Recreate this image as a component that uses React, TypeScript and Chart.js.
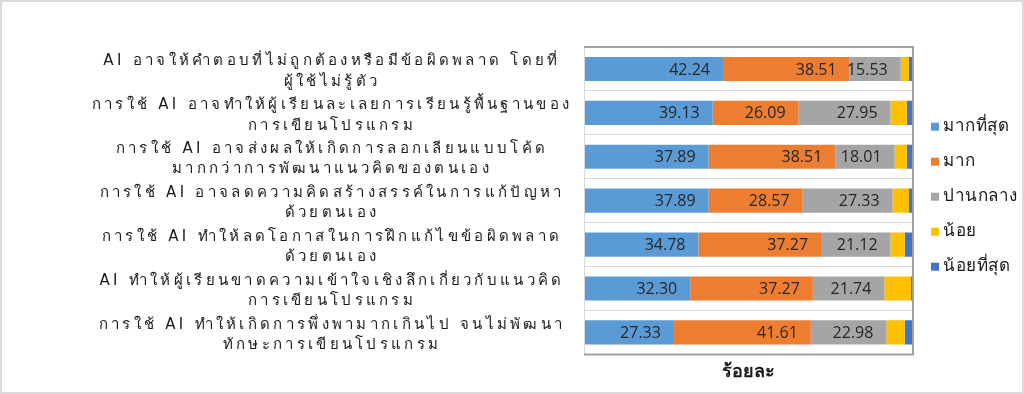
import React, { useEffect, useRef } from "react";
import { Chart, registerables } from "chart.js";

Chart.register(...registerables);

const categories: string[][] = [
  ["AI อาจให้คำตอบที่ไม่ถูกต้องหรือมีข้อผิดพลาด โดยที่", "ผู้ใช้ไม่รู้ตัว"],
  ["การใช้ AI อาจทำให้ผู้เรียนละเลยการเรียนรู้พื้นฐานของ", "การเขียนโปรแกรม"],
  ["การใช้ AI อาจส่งผลให้เกิดการลอกเลียนแบบโค้ด", "มากกว่าการพัฒนาแนวคิดของตนเอง"],
  ["การใช้ AI อาจลดความคิดสร้างสรรค์ในการแก้ปัญหา", "ด้วยตนเอง"],
  ["การใช้ AI ทำให้ลดโอกาสในการฝึกแก้ไขข้อผิดพลาด", "ด้วยตนเอง"],
  ["AI ทำให้ผู้เรียนขาดความเข้าใจเชิงลึกเกี่ยวกับแนวคิด", "การเขียนโปรแกรม"],
  ["การใช้ AI ทำให้เกิดการพึ่งพามากเกินไป จนไม่พัฒนา", "ทักษะการเขียนโปรแกรม"],
];

const seriesNames = ["มากที่สุด", "มาก", "ปานกลาง", "น้อย", "น้อยที่สุด"];
const mostValues = [42.24, 39.13, 37.89, 37.89, 34.78, 32.3, 27.33];
const muchValues = [38.51, 26.09, 38.51, 28.57, 37.27, 37.27, 41.61];
const moderateValues = [15.53, 27.95, 18.01, 27.33, 21.12, 21.74, 22.98];
const littleValues = [2.48, 4.97, 3.73, 4.97, 4.35, 8.07, 5.59];
const leastValues = [1.24, 1.86, 1.86, 1.24, 2.48, 0.62, 2.48];
const seriesColors = ["#5B9BD5", "#ED7D31", "#A5A5A5", "#FFC000", "#4472C4"];
const labeledSeries = [0, 1, 2];
const axisTitle = "ร้อยละ";

const THAI_FONT = "'DejaVu Sans', 'Noto Sans', sans-serif";

const outerBorder = {
  id: "outerBorder",
  beforeDraw(chart: any) {
    const { ctx, width, height } = chart;
    ctx.save();
    ctx.fillStyle = "#ffffff";
    ctx.fillRect(0, 0, width, height);
    ctx.strokeStyle = "#d9d9d9";
    ctx.lineWidth = 2;
    ctx.strokeRect(1, 1, width - 2, height - 2);
    ctx.restore();
  },
};

const plotBorder = {
  id: "plotBorder",
  afterDatasetsDraw(chart: any) {
    const { ctx, chartArea } = chart;
    const { left, right, top, bottom } = chartArea;
    ctx.save();
    ctx.strokeStyle = "#d9d9d9";
    ctx.lineWidth = 1;
    ctx.beginPath();
    ctx.moveTo(left + 0.5, top);
    ctx.lineTo(left + 0.5, bottom);
    ctx.stroke();
    ctx.strokeStyle = "#a0a0a0";
    ctx.lineWidth = 2;
    ctx.beginPath();
    ctx.moveTo(left, top);
    ctx.lineTo(right, top);
    ctx.lineTo(right, bottom);
    ctx.lineTo(left, bottom);
    ctx.stroke();
    ctx.restore();
  },
};

const barLabels = {
  id: "barLabels",
  afterDatasetsDraw(chart: any) {
    const { ctx } = chart;
    ctx.save();
    ctx.font = "16px 'Open Sans', sans-serif";
    ctx.fillStyle = "#262626";
    ctx.textAlign = "right";
    ctx.textBaseline = "middle";
    labeledSeries.forEach((di) => {
      const meta = chart.getDatasetMeta(di);
      const data = chart.data.datasets[di].data as number[];
      meta.data.forEach((bar: any, i: number) => {
        ctx.fillText(data[i].toFixed(2), bar.x - 13, bar.y + 1);
      });
    });
    ctx.restore();
  },
};

// Category labels of the y scale, each line centred (Excel-style wrapped text)
const categoryLabels = {
  id: "categoryLabels",
  afterDraw(chart: any) {
    const { ctx, chartArea } = chart;
    const yScale = chart.scales.y;
    const cx = chartArea.left - 252;
    const lineGap = 20.5;
    ctx.save();
    ctx.font = `15px ${THAI_FONT}`;
    (ctx as any).letterSpacing = "3.3px";
    ctx.fillStyle = "#1a1a1a";
    ctx.textAlign = "center";
    ctx.textBaseline = "middle";
    categories.forEach((lines, i) => {
      const yc = yScale.getPixelForValue(i) + 2.5;
      const start = yc - ((lines.length - 1) * lineGap) / 2;
      lines.forEach((ln, k) => {
        ctx.fillText(ln, cx, start + k * lineGap);
      });
    });
    ctx.restore();
  },
};

// Legend at the right of the plot area
const sideLegend = {
  id: "sideLegend",
  afterDraw(chart: any) {
    const { ctx, chartArea } = chart;
    const boxX = chartArea.right + 18;
    const step = 35;
    const n = chart.data.datasets.length;
    const midY = (chartArea.top + chartArea.bottom) / 2 - 4;
    const firstY = midY - ((n - 1) * step) / 2;
    ctx.save();
    ctx.font = `17px ${THAI_FONT}`;
    (ctx as any).letterSpacing = "0.5px";
    ctx.textAlign = "left";
    ctx.textBaseline = "middle";
    chart.data.datasets.forEach((ds: any, i: number) => {
      const y = firstY + i * step;
      ctx.fillStyle = ds.backgroundColor;
      ctx.fillRect(boxX, y - 4, 8, 8);
      ctx.fillStyle = "#1a1a1a";
      ctx.fillText(ds.label, boxX + 12, y);
    });
    ctx.restore();
  },
};

export default function App() {
  const ref = useRef<HTMLCanvasElement | null>(null);

  useEffect(() => {
    if (!ref.current) return;
    const valueSets = [mostValues, muchValues, moderateValues, littleValues, leastValues];
    const chart = new Chart(ref.current, {
      type: "bar",
      data: {
        labels: categories.map((c) => c.join(" ")),
        datasets: seriesNames.map((name, i) => ({
          label: name,
          data: valueSets[i],
          backgroundColor: seriesColors[i],
          borderWidth: 0,
          categoryPercentage: 1,
          barPercentage: 0.55,
        })),
      },
      options: {
        indexAxis: "y",
        responsive: false,
        animation: false,
        devicePixelRatio: 1,
        layout: { padding: { top: 47, left: 0, right: 111, bottom: 7 } },
        plugins: {
          tooltip: { enabled: false },
          legend: { display: false },
        },
        scales: {
          x: {
            stacked: true,
            min: 0,
            max: 100,
            ticks: { display: false },
            grid: { display: false },
            border: { display: false },
            title: {
              display: true,
              text: axisTitle,
              color: "#1a1a1a",
              font: { family: THAI_FONT, size: 18, weight: "bold" },
              padding: { top: -1, bottom: 4 },
            },
          },
          y: {
            stacked: true,
            grid: { color: "#d9d9d9", offset: true, drawTicks: false },
            border: { display: false },
            ticks: { display: false },
            afterFit(scale: any) {
              scale.width = 584;
            },
          },
        },
      },
      plugins: [outerBorder, plotBorder, barLabels, categoryLabels, sideLegend],
    });
    return () => chart.destroy();
  }, []);

  return (
    <div style={{ position: "absolute", left: 0, top: 0, width: 1024, height: 394, background: "#fff" }}>
      <canvas ref={ref} width={1024} height={394} style={{ display: "block" }} />
    </div>
  );
}
